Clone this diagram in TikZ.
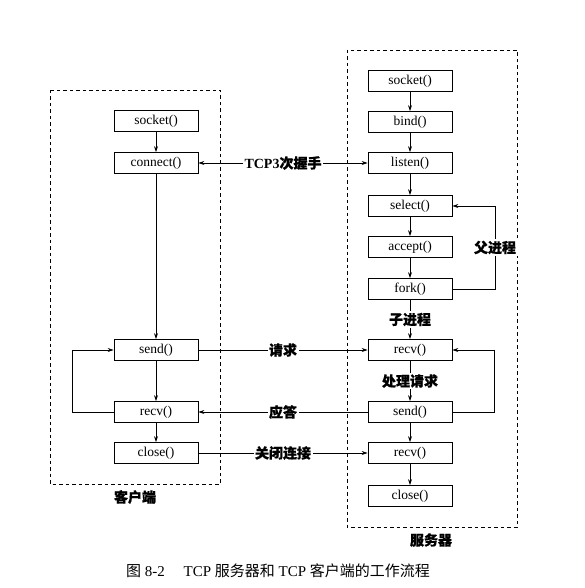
\documentclass[tikz,border=0pt]{standalone}
\usepackage{fontspec}
\setmainfont{Liberation Serif}
\newfontfamily\cjk{Noto Sans CJK SC}[FakeBold=0.6]
\newfontfamily\cjkthin{Noto Sans CJK SC}
\usepackage{tikz}
\usetikzlibrary{arrows.meta, positioning}

\tikzset{
  func/.style={draw, line width=0.8pt, minimum width=84pt, minimum height=21pt,
    inner sep=0pt, font=\fontsize{13.5}{15}\selectfont},
  flow/.style={line width=0.7pt, -{Stealth[length=6pt, width=4pt]}},
  tag/.style={fill=white, inner sep=1.5pt, font=\cjk\bfseries\fontsize{14}{16}\selectfont},
  frame/.style={line width=0.7pt, dash pattern=on 3.5pt off 3pt},
}

\begin{document}
\begin{tikzpicture}[x=1pt, y=-1pt]
  \useasboundingbox (0,0) rectangle (584,588);

  % dashed frames
  \draw[frame] (50,90) rectangle (220,484);
  \draw[frame] (347,50) rectangle (517,527);
  \node[tag] (clientlabel) at (135,497) {客户端};
  \node[tag] (serverlabel) at (431,540) {服务器};

  % client side
  \node[func] (csocket)  at (156,121) {socket()};
  \node[func] (cconnect) at (156,163) {connect()};
  \node[func] (csend)    at (156,350) {send()};
  \node[func] (crecv)    at (156,412) {recv()};
  \node[func] (cclose)   at (156,453) {close()};

  % server side
  \node[func] (ssocket) at (410,81)  {socket()};
  \node[func] (sbind)   at (410,122) {bind()};
  \node[func] (slisten) at (410,163) {listen()};
  \node[func] (sselect) at (410,206) {select()};
  \node[func] (saccept) at (410,247) {accept()};
  \node[func] (sfork)   at (410,289) {fork()};
  \node[func] (srecv)   at (410,350) {recv()};
  \node[func] (ssend)   at (410,412) {send()};
  \node[func] (srecvb)  at (410,453) {recv()};
  \node[func] (sclose)  at (410,496) {close()};

  % client flow
  \draw[flow] (csocket) -- (cconnect);
  \draw[flow] (cconnect) -- (csend);
  \draw[flow] (csend) -- (crecv);
  \draw[flow] (crecv) -- (cclose);
  \coordinate (cloop) at (72,412);
  \draw[flow] (crecv.west) -- (cloop) |- (csend.west);

  % server flow
  \draw[flow] (ssocket) -- (sbind);
  \draw[flow] (sbind) -- (slisten);
  \draw[flow] (slisten) -- (sselect);
  \draw[flow] (sselect) -- (saccept);
  \draw[flow] (saccept) -- (sfork);
  \draw[flow] (sfork) -- node[tag] (child) {子进程} (srecv);
  \draw[flow] (srecv) -- node[tag] (handle) {处理请求} (ssend);
  \draw[flow] (ssend) -- (srecvb);
  \draw[flow] (srecvb) -- (sclose);
  \coordinate (ploop) at (495,289);
  \draw[flow] (sfork.east) -- (ploop) |- node[pos=0.25, tag] (parent) {父进程} (sselect.east);
  \coordinate (sloop) at (494,412);
  \draw[flow] (ssend.east) -- (sloop) |- (srecv.east);

  % between client and server
  \draw[flow, {Stealth[length=6pt, width=4pt]}-{Stealth[length=6pt, width=4pt]}]
    (cconnect.east) -- node[tag] (shake) {\fontspec{Liberation Serif}TCP3{\cjk 次握手}} (slisten.west);
  \draw[flow] (csend.east) -- node[tag] (req) {请求} (srecv.west);
  \draw[flow] (ssend.west) -- node[tag] (resp) {应答} (crecv.east);
  \draw[flow] (cclose.east) -- node[tag] (fin) {关闭连接} (srecvb.west);

  % caption
  \node[font=\fontsize{15}{17}\selectfont] (caption) at (278,571)
    {{\cjkthin 图} 8-2\quad\ TCP {\cjkthin 服务器和} TCP {\cjkthin 客户端的工作流程}};
\end{tikzpicture}
\end{document}
